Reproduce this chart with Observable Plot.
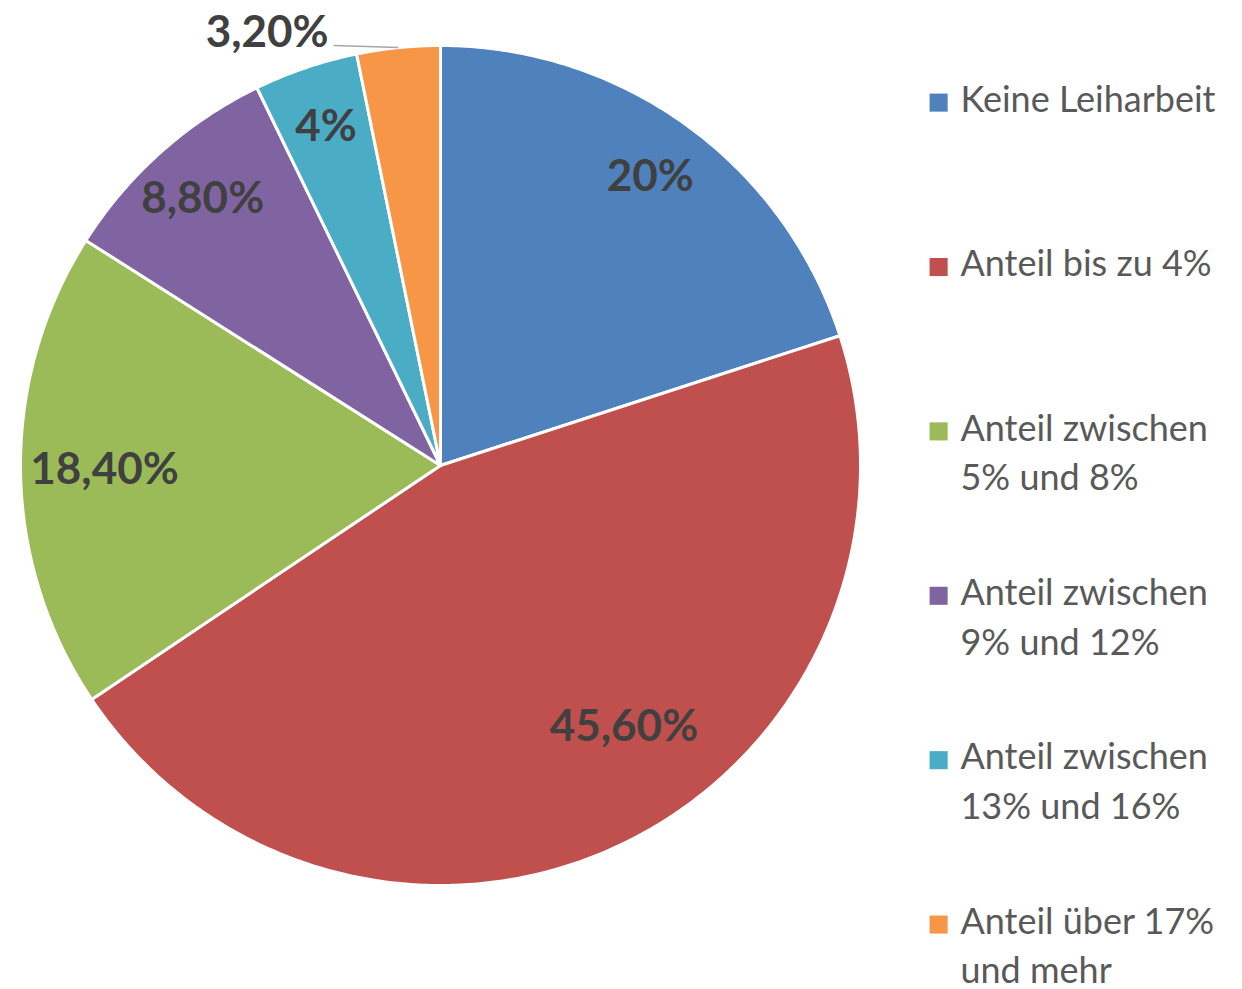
<!DOCTYPE html>
<html>
<head>
<meta charset="utf-8">
<script src="https://cdn.jsdelivr.net/npm/d3@7"></script>
<script src="https://cdn.jsdelivr.net/npm/@observablehq/plot@0.6"></script>
<style>
  html, body { margin: 0; padding: 0; background: #fff; }
  #chart { width: 1242px; height: 989px; }
</style>
</head>
<body>
<div id="chart"></div>
<script>
const categories = ["Keine Leiharbeit", "Anteil bis zu 4%", "Anteil zwischen 5% und 8%", "Anteil zwischen 9% und 12%", "Anteil zwischen 13% und 16%", "Anteil über 17% und mehr"];
const legendLabels = ["Keine Leiharbeit", "Anteil bis zu 4%", "Anteil zwischen\n5% und 8%", "Anteil zwischen\n9% und 12%", "Anteil zwischen\n13% und 16%", "Anteil über 17%\nund mehr"];
const values = [20, 45.6, 18.4, 8.8, 4, 3.2];
const valueLabels = ["20%", "45,60%", "18,40%", "8,80%", "4%", "3,20%"];
const colors = ["#4F81BD", "#C0504D", "#9BBB59", "#8064A2", "#4BACC6", "#F79646"];

const table = categories.map((c, i) => ({cat: c, value: values[i], label: valueLabels[i], legend: legendLabels[i], i}));
const arcs = d3.pie().sort(null).value(d => d.value)(table);

// slice polygons in unit coordinates (angle clockwise from top)
const pts = [];
for (const a of arcs) {
  const n = Math.max(2, Math.ceil((a.endAngle - a.startAngle) / 0.01));
  pts.push({cat: a.data.cat, x: 0, y: 0});
  for (let k = 0; k <= n; k++) {
    const t = a.startAngle + (a.endAngle - a.startAngle) * k / n;
    pts.push({cat: a.data.cat, x: Math.sin(t), y: Math.cos(t)});
  }
}

const inside = [], outside = [], leaders = [];
for (const a of arcs) {
  const m = (a.startAngle + a.endAngle) / 2;
  if (a.endAngle - a.startAngle < 0.08 * Math.PI * 2 / 2) {
    const sx = Math.sin(m), sy = Math.cos(m);
    const ex = sx - 0.154, ey = sy + 0.005;
    leaders.push({x1: sx, y1: sy, x2: ex, y2: ey});
    outside.push({x: ex - 0.012, y: ey + 0.03, label: a.data.label});
  } else {
    const big = a.data.value > 40;
    const r = big ? 0.76 : (Math.abs(Math.cos(m)) < 0.3 ? 0.8 : 0.85);
    const mm = big ? m - 0.16 : m;
    inside.push({x: r * Math.sin(mm), y: r * Math.cos(mm), label: a.data.label});
  }
}

const legendTop = 0.864, legendStep = 0.3914;
const legend = table.map((d, i) => ({cat: d.cat, legend: d.legend, y: legendTop - i * legendStep}));

const chart = Plot.plot({
  width: 1242,
  height: 989,
  marginLeft: 20,
  marginRight: 382,
  marginTop: 45,
  marginBottom: 104,
  x: {domain: [-1, 1], axis: null},
  y: {domain: [-1, 1], axis: null},
  color: {domain: categories, range: colors},
  style: {fontFamily: "Lato, 'Open Sans', sans-serif", background: "#fff"},
  marks: [
    Plot.line(pts, {x: "x", y: "y", z: "cat", fill: "cat", stroke: "white", strokeWidth: 3, strokeLinejoin: "round", curve: "linear-closed"}),
    Plot.text(inside, {x: "x", y: "y", text: "label", fill: "#404040", fontSize: 44, fontWeight: "bold"}),
    Plot.link(leaders, {x1: "x1", y1: "y1", x2: "x2", y2: "y2", stroke: "#A6A6A6", strokeWidth: 1.5}),
    Plot.text(outside, {x: "x", y: "y", text: "label", fill: "#404040", fontSize: 44, fontWeight: "bold", textAnchor: "end"}),
    Plot.dot(legend, {x: 1.186, y: "y", fill: "cat", symbol: "square", r: 10.2, stroke: null}),
    Plot.text(legend, {x: 1.238, y: "y", text: "legend", fill: "#595959", fontSize: 36, textAnchor: "start", lineAnchor: "top", dy: -26, lineHeight: 1.38})
  ]
});
document.getElementById("chart").appendChild(chart);
</script>
</body>
</html>
